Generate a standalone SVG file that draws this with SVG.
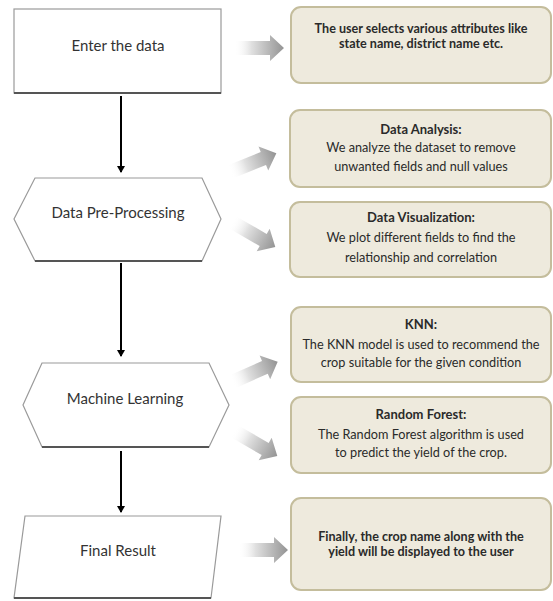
<svg xmlns="http://www.w3.org/2000/svg" width="553" height="601" viewBox="0 0 553 601">
<style>
.node{fill:#fff;stroke:#9a9a9a;stroke-width:1.2}
.shadow{fill:none;stroke:#555;stroke-width:2.2}
.ntext{font-family:Lato,"Liberation Sans",sans-serif;font-size:15px;fill:#333;text-anchor:middle}
.box{fill:#eeeadd;stroke:#c4bd9c;stroke-width:2}
.btext{font-family:Lato,"Liberation Sans",sans-serif;font-size:12.7px;fill:#2a2a2a;text-anchor:middle}
.bold{font-weight:bold;font-size:13px}
.tight{font-size:12.6px}
.conn{stroke:#000;stroke-width:2;fill:none}
</style>
<defs>
<linearGradient id="gg" x1="0" y1="0" x2="1" y2="0">
<stop offset="0" stop-color="#ffffff" stop-opacity="0"/>
<stop offset="0.35" stop-color="#e0e0e0"/>
<stop offset="1" stop-color="#939393"/>
</linearGradient>
<path id="garrow" d="M0,-7 L36,-7 L36,-13 L50,0 L36,13 L36,7 L0,7 Z" fill="url(#gg)"/>
<marker id="ah" markerWidth="8" markerHeight="8" refX="6" refY="4" orient="auto" markerUnits="userSpaceOnUse">
<path d="M0,0 L7,4 L0,8 Z" fill="#000"/>
</marker>
</defs>

<g id="connectors">
<line class="conn" x1="121" y1="96" x2="121" y2="172" marker-end="url(#ah)"/>
<line class="conn" x1="121" y1="263" x2="121" y2="356" marker-end="url(#ah)"/>
<line class="conn" x1="121" y1="451" x2="121" y2="512" marker-end="url(#ah)"/>
<use href="#garrow" transform="translate(234,48)"/>
<use href="#garrow" transform="translate(230,172) rotate(-22)"/>
<use href="#garrow" transform="translate(232,222) rotate(30)"/>
<use href="#garrow" transform="translate(232,382) rotate(-24)"/>
<use href="#garrow" transform="translate(234,431) rotate(30)"/>
<use href="#garrow" transform="translate(238,550)"/>
</g>

<g id="enter">
<rect class="node" x="14" y="9" width="207" height="84"/>
<line class="shadow" x1="14" y1="93" x2="221" y2="93"/>
<text class="ntext" x="118" y="51">Enter the data</text>
</g>

<g id="preprocess">
<polygon class="node" points="35,178 202,178 221,219 202,261 35,261 14,219"/>
<line class="shadow" x1="35" y1="261" x2="202" y2="261"/>
<text class="ntext" x="118" y="218">Data Pre-Processing</text>
</g>

<g id="ml">
<polygon class="node" points="42,363 209,363 229,405 209,447 42,447 23,405"/>
<line class="shadow" x1="42" y1="447" x2="209" y2="447"/>
<text class="ntext" x="125" y="404">Machine Learning</text>
</g>

<g id="final">
<polygon class="node" points="25,516 221,516 211,598 14,598"/>
<line class="shadow" x1="14" y1="598" x2="211" y2="598"/>
<text class="ntext" x="118" y="556">Final Result</text>
</g>

<g id="boxA">
<rect class="box" x="291" y="7" width="260" height="76" rx="10"/>
<text class="btext bold tight" x="421" y="33">The user selects various attributes like</text>
<text class="btext bold tight" x="421" y="48">state name, district name etc.</text>
</g>

<g id="boxB">
<rect class="box" x="290" y="110" width="261" height="77" rx="10"/>
<text class="btext bold" x="421" y="134">Data Analysis:</text>
<text class="btext" x="421" y="152">We analyze the dataset to remove</text>
<text class="btext" x="421" y="171">unwanted fields and null values</text>
</g>

<g id="boxC">
<rect class="box" x="290" y="202" width="261" height="75" rx="10"/>
<text class="btext bold" x="421" y="222">Data Visualization:</text>
<text class="btext" x="421" y="242">We plot different fields to find the</text>
<text class="btext" x="421" y="262">relationship and correlation</text>
</g>

<g id="boxD">
<rect class="box" x="291" y="307" width="260" height="75" rx="10"/>
<text class="btext bold" x="421" y="329">KNN:</text>
<text class="btext" x="421" y="349">The KNN model is used to recommend the</text>
<text class="btext" x="421" y="367">crop suitable for the given condition</text>
</g>

<g id="boxE">
<rect class="box" x="291" y="397" width="260" height="76" rx="10"/>
<text class="btext bold" x="421" y="419">Random Forest:</text>
<text class="btext" x="421" y="439">The Random Forest algorithm is used</text>
<text class="btext" x="421" y="457">to predict the yield of the crop.</text>
</g>

<g id="boxF">
<rect class="box" x="291" y="498" width="260" height="92" rx="10"/>
<text class="btext bold tight" x="421" y="541">Finally, the crop name along with the</text>
<text class="btext bold tight" x="421" y="556">yield will be displayed to the user</text>
</g>
</svg>
